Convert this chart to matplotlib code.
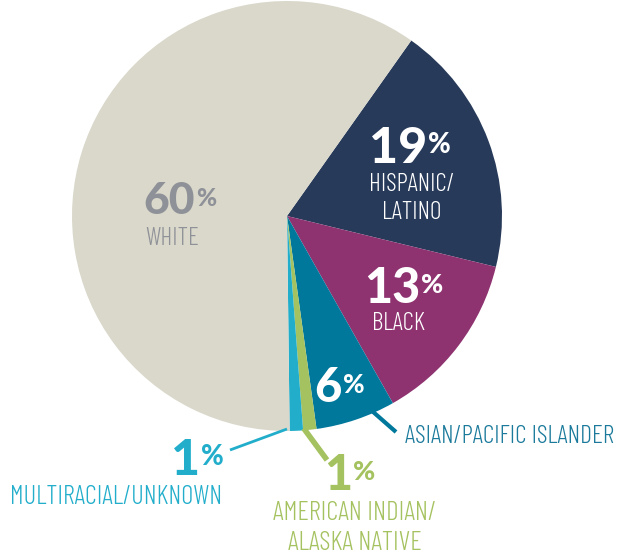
import numpy as np
import matplotlib
matplotlib.use('Agg')
import matplotlib.pyplot as plt

W, H = 619, 550

groups = ['HISPANIC/\nLATINO', 'BLACK', 'ASIAN/PACIFIC ISLANDER',
          'AMERICAN INDIAN/\nALASKA NATIVE', 'MULTIRACIAL/UNKNOWN', 'WHITE']
shares = [19, 13, 6, 1, 1, 60]
colors = ['#283a5a', '#8e3370', '#00789c', '#a5c260', '#22aecb', '#dad8cb']

narrow = ['Barlow Condensed', 'Roboto Condensed', 'DejaVu Sans']
heavy = ['Lato', 'DejaVu Sans']

fig = plt.figure(figsize=(W / 100, H / 100), dpi=100)
ax = fig.add_axes([0, 0, 1, 1])

cx, cy, r = 287, 216, 215
wedges, _ = ax.pie(shares, colors=colors, startangle=54.7, counterclock=False,
                   center=(cx, H - cy), radius=r, frame=False,
                   wedgeprops=dict(linewidth=0))
ax.set_xlim(0, W)
ax.set_ylim(0, H)
ax.set_aspect('equal')
ax.axis('off')
renderer = fig.canvas.get_renderer()


def Y(y):
    return H - y


def big(xr, ybase, num, color, cap_px):
    # cap_px: height of the digits in pixels
    size = cap_px / 0.72 * 0.72
    ax.text(xr, Y(ybase), num, ha='right', va='baseline', color=color,
            fontsize=size, family=heavy, weight='black')
    ax.text(xr + 1, Y(ybase - cap_px + 5), '%', ha='left', va='top', color=color,
            fontsize=size * 0.55, family=heavy, weight='black')


def label(x, ytop, txt, color, width_px, ha='center'):
    # fit the widest line of the label to the width measured on the reference
    t = ax.text(x, Y(ytop), txt, ha=ha, va='top', color=color, fontsize=17,
                family=narrow, weight=300, linespacing=1.3)
    w = t.get_window_extent(renderer).width
    t.set_fontsize(17 * width_px / w)


def edge(angle, rr):
    a = np.deg2rad(angle)
    return cx + rr * np.cos(a), Y(cy - rr * np.sin(a))


# leader lines from the pie edge
def leader(angle, end, color, lw):
    x0, y0 = edge(angle, r - 2)
    ax.plot([x0, end[0]], [y0, Y(end[1])], color=color, lw=lw,
            solid_capstyle='butt')


leader(-66.4, (396, 432), '#00789c', 3)
leader(-85.5, (327, 460), '#a5c260', 4)
leader(-90.0, (230, 450), '#22aecb', 2)

gray = '#8e9197'
big(195, 214, '60', gray, 32)
label(172, 227, groups[5], gray, 54)

big(427, 163, '19', 'white', 36)
label(412, 173, groups[0], 'white', 86)

big(420, 303, '13', 'white', 35)
label(398, 312, groups[1], 'white', 53)

big(342, 402, '6', 'white', 34)

label(405, 425, groups[2], '#1b7a9b', 210, ha='left')

big(352, 490, '1', '#a5c260', 35)
label(355, 501, groups[3], '#a5c260', 164)

big(200, 475, '1', '#22aecb', 36)
label(116, 485, groups[4], '#22aecb', 212)

fig.savefig('out.png', dpi=100)
